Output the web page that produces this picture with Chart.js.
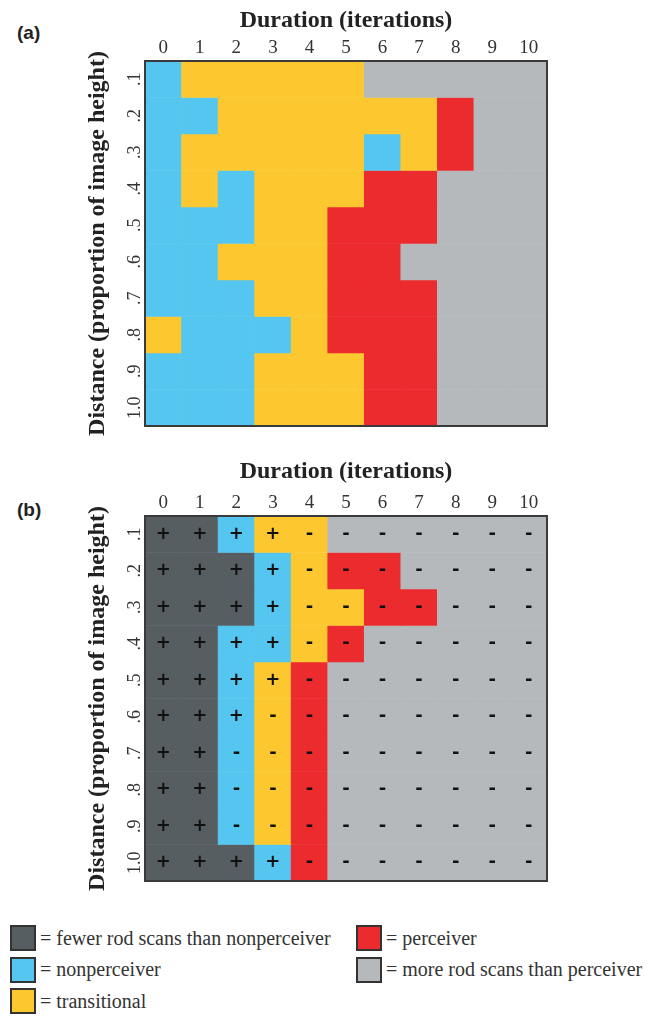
<!DOCTYPE html>
<html>
<head>
<meta charset="utf-8">
<script src="https://cdn.jsdelivr.net/npm/chart.js@4.4.1/dist/chart.umd.min.js"></script>
<style>
  body { margin: 0; background: #fff; width: 650px; height: 1017px; position: relative; overflow: hidden; }
  .panel { position: absolute; left: 0; width: 650px; height: 440px; }
  .tag { position: absolute; left: 17px; font: bold 19px "Liberation Sans", Arial, sans-serif; color: #222; line-height: 22px; }
  #legend { position: absolute; left: 10px; top: 925px; display: grid; grid-template-columns: 346px 300px; row-gap: 5.5px; }
  .item { display: flex; align-items: center; height: 26px; font: 20px "Liberation Serif", "Times New Roman", "DejaVu Serif", serif; color: #333; white-space: nowrap; }
  .box { width: 22px; height: 22px; border: 2px solid #333; margin-right: 4px; flex: none; }
</style>
</head>
<body>
<div class="tag" style="top:22px">(a)</div>
<div class="tag" style="top:499px">(b)</div>
<canvas id="chartA" class="panel" style="top:0" width="650" height="440"></canvas>
<canvas id="chartB" class="panel" style="top:455px" width="650" height="440"></canvas>
<div id="legend"></div>
<script>
// column / row labels
const durations = ['0', '1', '2', '3', '4', '5', '6', '7', '8', '9', '10'];
const distances = ['.1', '.2', '.3', '.4', '.5', '.6', '.7', '.8', '.9', '1.0'];

// F = fewer rod scans, N = nonperceiver, T = transitional, P = perceiver, M = more rod scans
const outcomeA = [
  'NTTTTTMMMMM',
  'NNTTTTTTPMM',
  'NTTTTTNTPMM',
  'NTNTTTPPMMM',
  'NNNTTPPPMMM',
  'NNTTTPPMMMM',
  'NNNTTPPPMMM',
  'TNNNTPPPMMM',
  'NNNTTTPPMMM',
  'NNNTTTPPMMM'
];
const outcomeB = [
  'FFNTTMMMMMM',
  'FFFNTPPMMMM',
  'FFFNTTPPMMM',
  'FFNNTPMMMMM',
  'FFNTPMMMMMM',
  'FFNTPMMMMMM',
  'FFNTPMMMMMM',
  'FFNTPMMMMMM',
  'FFNTPMMMMMM',
  'FFFNPMMMMMM'
];
const signsB = [
  '++++-------',
  '++++-------',
  '++++-------',
  '++++-------',
  '++++-------',
  '+++--------',
  '++---------',
  '++---------',
  '++---------',
  '++++-------'
];

const colours = { F: '#565e61', N: '#55c6f0', T: '#fdc82f', P: '#ec2b2f', M: '#b6b9bb' };
const legendItems = [
  ['F', '= fewer rod scans than nonperceiver'],
  ['P', '= perceiver'],
  ['N', '= nonperceiver'],
  ['M', '= more rod scans than perceiver'],
  ['T', '= transitional']
];

const serif = 'Liberation Serif';

// dark frame round the plot area
const framePlugin = {
  id: 'frame',
  afterDatasetsDraw(chart) {
    const { ctx, chartArea: a } = chart;
    ctx.save();
    ctx.strokeStyle = '#3a3a3a';
    ctx.lineWidth = 2;
    ctx.strokeRect(a.left, a.top, a.right - a.left, a.bottom - a.top);
    ctx.restore();
  }
};

// + / - marks in the middle of each cell
const signPlugin = signs => ({
  id: 'signs',
  afterDatasetsDraw(chart) {
    if (!signs) return;
    const ctx = chart.ctx;
    ctx.save();
    ctx.fillStyle = '#111';
    ctx.font = 'bold 18px "DejaVu Sans"';
    ctx.textAlign = 'center';
    ctx.textBaseline = 'middle';
    signs.forEach((row, r) => {
      const meta = chart.getDatasetMeta(r);
      row.split('').forEach((s, c) => {
        const bar = meta.data[c];
        ctx.fillText(s, bar.x, (bar.y + bar.base) / 2);
      });
    });
    ctx.restore();
  }
});

function makeChart(id, rows, signs, titleGap) {
  const datasets = rows.map((row, r) => ({
    label: distances[r],
    data: durations.map(() => [r - 0.5, r + 0.5]),
    backgroundColor: row.split('').map(c => colours[c]),
    borderWidth: 0,
    barPercentage: 1,
    categoryPercentage: 1,
    grouped: false
  }));

  return new Chart(document.getElementById(id), {
    type: 'bar',
    data: { labels: durations, datasets: datasets },
    options: {
      responsive: false,
      animation: false,
      layout: { padding: { left: 80, right: 103, top: 0, bottom: 14 } },
      plugins: { legend: { display: false }, tooltip: { enabled: false } },
      scales: {
        x: {
          position: 'top',
          grid: { display: false, drawTicks: false },
          border: { display: false },
          ticks: { color: '#333', font: { family: serif, size: 19 }, padding: 2, maxRotation: 0 },
          title: {
            display: true,
            text: 'Duration (iterations)',
            color: '#222',
            font: { family: serif, size: 24, weight: 'bold' },
            padding: { top: titleGap, bottom: 0 }
          },
          afterFit: s => { s.height = 61; }
        },
        y: {
          min: -0.5,
          max: 9.5,
          reverse: true,
          grid: { display: false, drawTicks: false },
          border: { display: false },
          afterBuildTicks: s => { s.ticks = distances.map((d, i) => ({ value: i })); },
          ticks: {
            callback: v => distances[v],
            minRotation: 90,
            maxRotation: 90,
            crossAlign: 'center',
            padding: -2,
            color: '#333',
            font: { family: serif, size: 18 }
          },
          title: {
            display: true,
            text: 'Distance (proportion of image height)',
            color: '#222',
            font: { family: serif, size: 24, weight: 'bold' },
            padding: { top: 3, bottom: 0 }
          },
          afterFit: s => { s.width = 65; }
        }
      }
    },
    plugins: [framePlugin, signPlugin(signs)]
  });
}

makeChart('chartA', outcomeA, null, 6);
makeChart('chartB', outcomeB, signsB, 2);

// legend
const legend = document.getElementById('legend');
legendItems.forEach(([code, text]) => {
  const item = document.createElement('div');
  item.className = 'item';
  const box = document.createElement('span');
  box.className = 'box';
  box.style.background = colours[code];
  item.appendChild(box);
  item.appendChild(document.createTextNode(text));
  legend.appendChild(item);
});
</script>
</body>
</html>
